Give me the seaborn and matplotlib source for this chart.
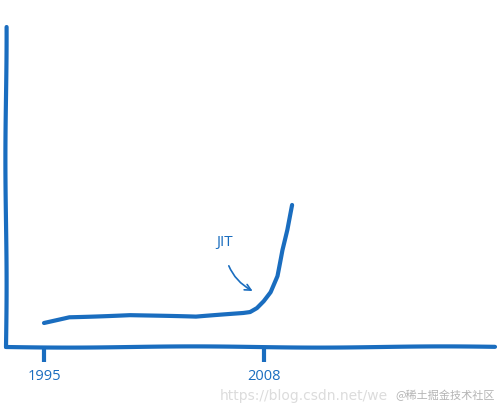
import matplotlib
matplotlib.use('Agg')
import matplotlib.pyplot as plt
import seaborn as sns
import pandas as pd

# data (arbitrary performance units)
years = [1995.0, 1996.5, 2000.1, 2004.0, 2005.4, 2006.8, 2007.2, 2007.6,
         2008.0, 2008.4, 2008.8, 2009.1, 2009.4, 2009.7]
perf = [24, 30, 32, 30, 32, 34, 35, 39, 46, 55, 71, 97, 117, 142]
tick_years = [1995, 2008]
tick_labels = ['1995', '2008']

blue = '#1a6dbf'

sns.set_style('white')
plt.rcParams['font.family'] = ['Open Sans', 'Noto Sans CJK SC', 'DejaVu Sans']

df = pd.DataFrame({'year': years, 'perf': perf})

fig = plt.figure(figsize=(5, 4.09), dpi=100)
ax = fig.add_axes([6 / 500, 62 / 409, 489 / 500, 320 / 409])

sns.lineplot(ax=ax, data=df, x='year', y='perf', color=blue, linewidth=3)
ax.get_lines()[0].set_sketch_params(0.4, 200, 1)
ax.get_lines()[0].set_solid_capstyle('round')
ax.get_lines()[0].set_solid_joinstyle('round')

# axes
ax.set_xlim(1992.75, 2021.7)
ax.set_ylim(0, 320)
sns.despine(ax=ax)
for s in ['left', 'bottom']:
    ax.spines[s].set_color(blue)
    ax.spines[s].set_linewidth(3)
    ax.spines[s].set_sketch_params(0.6, 250, 1)
    ax.spines[s].set_capstyle('round')
ax.set_xticks(tick_years)
ax.set_xticklabels(tick_labels, color=blue, fontsize=10.5)
ax.set_yticks([])
ax.tick_params(axis='x', direction='out', length=11, width=3, color=blue, pad=5, bottom=True)
ax.set_xlabel('')
ax.set_ylabel('')

# annotation
ax.annotate('JIT', xy=(2007.35, 56), xytext=(2005.7, 104),
            color=blue, fontsize=11, ha='center', va='center',
            arrowprops=dict(arrowstyle='->', color=blue, lw=1.2,
                            shrinkA=9, shrinkB=0,
                            connectionstyle='arc3,rad=0.3'))

# watermark
fig.text(0.44, 0.032, 'https://blog.csdn.net/we', color='#dcdcdc', fontsize=10,
         va='center', family='DejaVu Sans')
fig.text(0.79, 0.032, '@稀土掘金技术社区', color='#b4b4b4', fontsize=8,
         va='center', family=['Noto Sans CJK SC', 'DejaVu Sans'])

fig.savefig('out.png', dpi=100, facecolor='white')
